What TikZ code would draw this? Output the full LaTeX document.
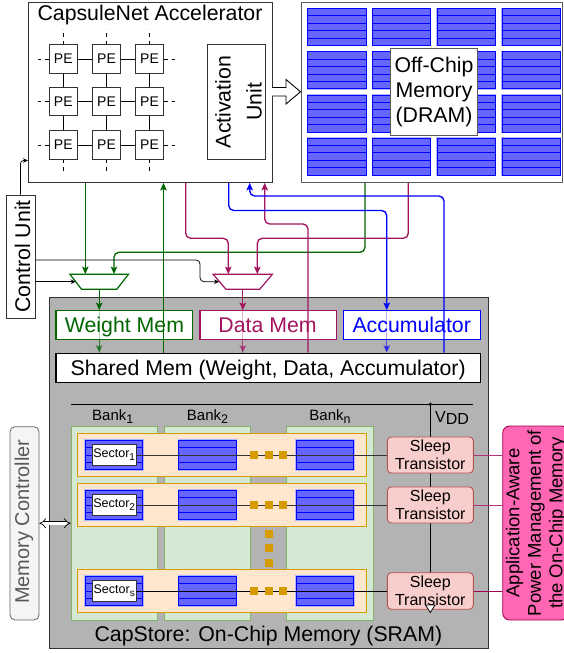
\documentclass[tikz,border=0pt]{standalone}
\usepackage{fontspec}
\setmainfont{Liberation Sans}
\usetikzlibrary{calc,arrows.meta}
\definecolor{wgreen}{RGB}{0,102,0}
\definecolor{dmar}{RGB}{163,20,95}
\definecolor{ablue}{RGB}{0,0,255}
\definecolor{blkfill}{RGB}{102,102,255}
\definecolor{capgray}{RGB}{179,179,179}
\definecolor{bankfill}{RGB}{213,232,212}
\definecolor{bankdraw}{RGB}{130,179,102}
\definecolor{secfill}{RGB}{255,230,204}
\definecolor{secdraw}{RGB}{215,155,0}
\definecolor{stfill}{RGB}{248,206,204}
\definecolor{stdraw}{RGB}{184,84,80}
\definecolor{pinkfill}{RGB}{255,102,179}
\definecolor{pinkdraw}{RGB}{163,0,80}
\definecolor{mcfill}{RGB}{245,245,245}
\definecolor{mcdraw}{RGB}{102,102,102}
\newcommand{\fsbig}{\fontsize{21.3}{25}\selectfont}
\newcommand{\fsmc}{\fontsize{20}{24}\selectfont}
\newcommand{\fsapp}{\fontsize{18.5}{21.5}\selectfont}
\newcommand{\fsmid}{\fontsize{16}{18.5}\selectfont}
\newcommand{\fsbank}{\fontsize{15}{17}\selectfont}
\newcommand{\fspe}{\fontsize{14}{16}\selectfont}
\newcommand{\fssec}{\fontsize{12.5}{14}\selectfont}
\newcommand{\banksub}[1]{\raisebox{-3.5pt}{\fontsize{12.5}{12.5}\selectfont #1}}
\newcommand{\secsub}[1]{\raisebox{-3pt}{\fontsize{10}{10}\selectfont #1}}
\newcommand{\memblock}[5]{%
  \draw[ablue!30, line width=1.6pt] (#1,#2) rectangle ++(#3,#4);
  \fill[blkfill] (#1,#2) rectangle ++(#3,#4);
  \foreach \k in {1,...,#5} \draw[ablue, line width=0.7pt] (#1,{#2+\k*#4/(#5+1)}) -- ++(#3,0);
  \draw[ablue, line width=0.8pt] (#1,#2) rectangle ++(#3,#4);
}
\begin{document}
\begin{tikzpicture}[x=1pt,y=-1pt,
  plainbox/.style={draw=black!80, line width=0.9pt, fill=white, inner sep=0pt},
  pe/.style={plainbox, minimum size=28.5pt, font=\fspe},
  pestub/.style={line width=0.9pt, dash pattern=on 3.5pt off 4pt},
  ctl/.style={black, line width=0.75pt, -{Stealth[length=5pt,width=4.5pt]}},
  tipc/.style={-{Stealth[length=7.5pt,width=6.5pt,inset=1.5pt]}},
  gline/.style={wgreen, line width=1.35pt},
  mline/.style={dmar, line width=1.35pt},
  bline/.style={ablue, line width=1.35pt},
  bankbox/.style={draw=bankdraw, line width=0.9pt, fill=bankfill, minimum width=86.4pt, minimum height=194pt, inner sep=0pt},
  secrow/.style={draw=secdraw, line width=0.9pt, fill=secfill, minimum width=288.3pt, minimum height=43.3pt, inner sep=0pt},
  seclab/.style={draw=black!80, line width=0.8pt, fill=white, minimum width=43.7pt, minimum height=21.7pt, inner sep=0pt, font=\fssec},
  sleepbox/.style={draw=stdraw, line width=0.9pt, fill=stfill, rounded corners=4pt, minimum width=86pt, minimum height=36pt, inner sep=0pt, align=center, font=\fsmid},
  orsq/.style={fill=secdraw, minimum size=8pt, inner sep=0pt},
  membox/.style={line width=1.2pt, fill=white, minimum height=28.6pt, inner sep=0pt}
]
\fill[white] (0,0) rectangle (564,653);
\useasboundingbox (0,0) rectangle (564,653);

% ---------------- accelerator
\node[plainbox, minimum width=244pt, minimum height=180pt, anchor=north west] (acc) at (28,2) {};
\node[font=\fsbig, anchor=base] (acct) at (150,20) {CapsuleNet Accelerator};
\foreach \i/\x in {1/63.3,2/106.5,3/149.5}
  \foreach \j/\y in {1/59,2/101.5,3/145}
    \node[pe] (pe\i\j) at (\x,\y) {PE};
\foreach \j in {1,2,3} {
  \draw[line width=0.9pt] (pe1\j.east) -- (pe2\j.west);
  \draw[line width=0.9pt] (pe2\j.east) -- (pe3\j.west);
  \draw[line width=0.9pt] (pe\j1.south) -- (pe\j2.north);
  \draw[line width=0.9pt] (pe\j2.south) -- (pe\j3.north);
  \draw[pestub] (pe1\j.west) -- ++(-14,0);
  \draw[pestub] (pe3\j.east) -- ++(14,0);
  \draw[pestub] (pe\j1.north) -- ++(0,-15);
  \draw[pestub] (pe\j3.south) -- ++(0,14);
}
\node[plainbox, minimum width=57.7pt, minimum height=115pt] (act) at (236.2,101.8) {};
\node[rotate=90, align=center, font=\fontsize{21.3}{31}\selectfont] (actt) at (238.5,102) {Activation\\Unit};
\draw[line width=0.9pt, fill=white, line join=miter] (272,87.5) -- (286,87.5) -- (286,79.5) -- (300.5,91.8) -- (286,104) -- (286,96) -- (272,96);

% ---------------- DRAM
\node[draw=black!65, line width=1pt, fill=white, minimum width=261pt, minimum height=180pt, anchor=north west, inner sep=0pt] (dram) at (301,2) {};
\foreach \x in {307.7,372.3,437,502}
  \foreach \y in {8.3,51.7,95,138}
    {\memblock{\x}{\y}{58.3}{37}{4}}
\node[draw=black!65, line width=0.9pt, fill=white, minimum width=86.6pt, minimum height=86.7pt, inner sep=0pt, align=center, font=\fontsize{21.3}{25}\selectfont] (offc) at (434,91.7) {Off-Chip\\Memory\\(DRAM)};

% ---------------- CapStore
\node[draw=black!80, line width=1pt, fill=capgray, minimum width=439pt, minimum height=351pt, anchor=north west, inner sep=0pt] (cap) at (49,297) {};
\node[font=\fsbig, anchor=base] (capt) at (268.4,641.5) {CapStore: On-Chip Memory (SRAM)};

\node[bankbox] (b1) at (114.2,523) {};
\node[bankbox] (b2) at (207.5,523) {};
\node[bankbox] (bn) at (330,523) {};
\node[font=\fsbank, anchor=base] (b1t) at (112.8,420) {Bank\banksub{1}};
\node[font=\fsbank, anchor=base] (b2t) at (207.5,420) {Bank\banksub{2}};
\node[font=\fsbank, anchor=base] (bnt) at (330,420) {Bank\banksub{n}};

\coordinate (vl) at (71,404.3);
\coordinate (vr) at (473.3,404.3);
\coordinate (vdot) at (430.3,404.3);
\coordinate (gnd) at (430.3,606);
\draw[line width=0.8pt] (vl) -- (vr);
\draw[line width=0.8pt] (vdot) -- (gnd);
\fill (vdot) circle (1.8pt);
\node[font=\fsmid, anchor=base] (vdd) at (452,422) {V\raisebox{-2.5pt}{DD}};

\node[secrow] (r1) at (221.8,455) {};
\node[secrow] (r2) at (221.8,505) {};
\node[secrow] (r3) at (221.8,591) {};
\foreach \x in {85,178.3,296}
  \foreach \y in {440.2,490.2,576.2}
    {\memblock{\x}{\y}{57.7}{29.6}{3}}
\node[seclab] (s1) at (114.2,455) {Sector\secsub{1}};
\node[seclab] (s2) at (114.2,505) {Sector\secsub{2}};
\node[seclab] (s3) at (114.2,591) {Sector\secsub{s}};

\node[sleepbox] (st1) at (430.3,455) {Sleep\\Transistor};
\node[sleepbox] (st2) at (430.3,505) {Sleep\\Transistor};
\node[sleepbox, minimum height=36.5pt] (st3) at (430.3,591) {Sleep\\Transistor};
\draw[line width=0.8pt, fill=white, line join=miter] (425.5,605) -- (435.1,605) -- (430.3,612.5) -- cycle;

\draw[black!80, line width=0.8pt] (s1.east) -- (st1.west);
\draw[black!80, line width=0.8pt] (s2.east) -- (st2.west);
\draw[black, line width=0.8pt] (s3.east) -- (st3.west);

\foreach \y in {455,505,591}
  \foreach \x in {254.3,269,283.3}
    \node[orsq] at (\x,\y) {};
\foreach \y in {534,548.3,562.7}
  \node[orsq] at (269,\y) {};

\node[draw=pinkdraw, line width=0.9pt, fill=pinkfill, rounded corners=7pt, minimum width=66pt, minimum height=194pt, inner sep=0pt] (app) at (535.7,523) {};
\node[rotate=90, align=center, font=\fsapp] (appt) at (536,523) {Application-Aware\\Power Management of\\the On-Chip Memory};
\draw[pinkdraw!80, line width=0.8pt] (st1.east) -- (app.west |- st1.east);
\draw[pinkdraw!80, line width=0.8pt] (st2.east) -- (app.west |- st2.east);
\draw[pinkdraw, line width=0.8pt] (st3.east) -- (app.west |- st3.east);

\node[draw=mcdraw, fill=mcfill, rounded corners=5pt, line width=0.8pt, minimum width=29pt, minimum height=193.3pt, inner sep=0pt] (mc) at (24.5,523.3) {};
\node[rotate=90, font=\fsmc, text=black!65] (mct) at (24,521.7) {Memory Controller};
\draw[double, double distance=2.8pt, line width=0.7pt, {Implies}-{Implies}] (mc.east) -- (b1.west |- mc.east);

% ---------------- memories
\node[membox, draw=wgreen, minimum width=136.7pt] (wmem) at (124.3,325) {};
\node[membox, draw=dmar, minimum width=136.7pt] (dmem) at (268.3,325) {};
\node[membox, draw=ablue, minimum width=137.4pt] (accm) at (412,325) {};
\node[membox, draw=black, minimum width=424.7pt, minimum height=29pt] (shm) at (268.3,367.8) {};
\node[font=\fsbig, text=wgreen, anchor=base] (wmemt) at (124.5,332.7) {Weight Mem};
\node[font=\fsbig, text=dmar, anchor=base] (dmemt) at (267.5,332.7) {Data Mem};
\node[font=\fsbig, text=ablue, anchor=base] (accmt) at (411.7,332.7) {Accumulator};
\node[font=\fsbig, anchor=base] (shmt) at (268.2,375) {Shared Mem (Weight, Data, Accumulator)};

% ---------------- muxes (placeholders)
\node[minimum width=58.3pt, minimum height=14.7pt, inner sep=0pt] (wmux) at (99.2,281.7) {};
\node[minimum width=59pt, minimum height=14.7pt, inner sep=0pt] (dmux) at (242.8,281.7) {};

% ---------------- bend points
\coordinate (gx1) at (85.3,0);
\coordinate (g2) at (365,252.3);
\coordinate (g2b) at (114,252.3);
\coordinate (gx5) at (163.5,0);
\coordinate (m1) at (185.7,238.3);
\coordinate (m1b) at (228.3,238.3);
\coordinate (m2) at (408.3,238.3);
\coordinate (m2b) at (257.3,238.3);
\coordinate (m5) at (308,224);
\coordinate (m5b) at (264.7,224);
\coordinate (bb1) at (228.7,210.5);
\coordinate (bb1b) at (386.7,210.5);
\coordinate (bb3) at (444,196);
\coordinate (bb3b) at (249.7,196);

% green
\draw[gline, tipc] (acc.south -| gx1) -- (wmux.north -| gx1);
\draw[gline, tipc, rounded corners=5pt] (dram.south -| g2) -- (g2) -- (g2b) -- (wmux.north -| g2b);
\draw[gline, opacity=0.3] (wmux.south) -- (shm.north -| wmux.south);
\draw[gline, tipc] (wmux.south) -- (wmem.north -| wmux.south);
\draw[gline, tipc, opacity=0.6] (wmem.south -| wmux.south) -- (shm.north -| wmux.south);
\draw[gline, tipc] (shm.north -| gx5) -- (acc.south -| gx5);
% maroon
\draw[mline, tipc, rounded corners=5pt] (acc.south -| m1) -- (m1) -- (m1b) -- (dmux.north -| m1b);
\draw[mline, tipc, rounded corners=5pt] (dram.south -| m2) -- (m2) -- (m2b) -- (dmux.north -| m2b);
\draw[mline, opacity=0.3] (dmux.south) -- (shm.north -| dmux.south);
\draw[mline, tipc] (dmux.south) -- (dmem.north -| dmux.south);
\draw[mline, tipc, opacity=0.6] (dmem.south -| dmux.south) -- (shm.north -| dmux.south);
\draw[mline, tipc, rounded corners=5pt] (shm.north -| m5) -- (m5) -- (m5b) -- (acc.south -| m5b);
% blue
\draw[bline, tipc, rounded corners=5pt] (acc.south -| bb1) -- (bb1) -- (bb1b) -- (accm.north -| bb1b);
\draw[bline, opacity=0.3] (accm.north -| bb1b) -- (accm.south -| bb1b);
\draw[bline, tipc, opacity=0.6] (accm.south -| bb1b) -- (shm.north -| bb1b);
\draw[bline, tipc, rounded corners=5pt] (shm.north -| bb3) -- (bb3) -- (bb3b) -- (acc.south -| bb3b);

% muxes
\draw[wgreen, line width=1.2pt, fill=white] (wmux.north west) -- (wmux.north east) -- ([xshift=-11.7pt]wmux.south east) -- ([xshift=11.7pt]wmux.south west) -- cycle;
\draw[dmar, line width=1.2pt, fill=white] (dmux.north west) -- (dmux.north east) -- ([xshift=-12.8pt]dmux.south east) -- ([xshift=12.8pt]dmux.south west) -- cycle;

% ---------------- control unit
\node[plainbox, minimum width=29pt, minimum height=123pt] (cu) at (20.5,256.5) {};
\node[rotate=90, font=\fsbig] (cut) at (22.5,256.5) {Control Unit};
\coordinate (cuy) at (0,160.5);
\coordinate (ca) at (0,260);
\coordinate (cb) at (200,260);
\coordinate (cc) at (200,281.7);
\draw[ctl, rounded corners=3pt] (cu.north) |- (acc.west |- cuy);
\draw[ctl, rounded corners=4pt] (cu.east |- ca) -- (cb) -- (cc) -- ([xshift=6pt]dmux.west);
\draw[ctl] (cu.east |- wmux.west) -- ([xshift=5.8pt]wmux.west);
\end{tikzpicture}
\end{document}
